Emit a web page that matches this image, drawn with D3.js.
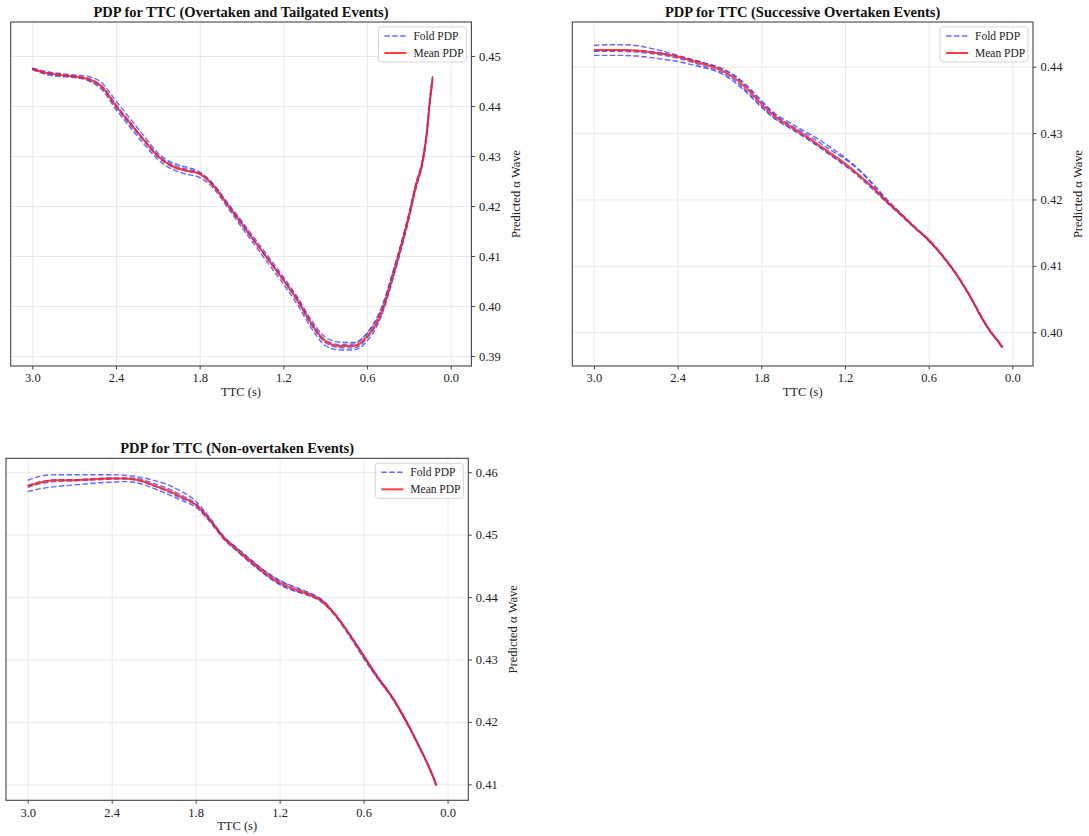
<!DOCTYPE html>
<html lang="en">
<head>
<meta charset="UTF-8">
<title>PDP for TTC</title>
<script src="https://d3js.org/d3.v7.min.js"></script>
<style>
  html, body { margin: 0; background: #fff; }
  svg { display: block; font-family: "Liberation Serif", "Times New Roman", serif; }
  .title { font-size: 14.5px; font-weight: bold; text-anchor: middle; fill: #111; }
  .axis-label { font-size: 12.5px; text-anchor: middle; fill: #222; }
  .tick text { font-size: 12.5px; fill: #222; font-family: "Liberation Serif", serif; }
  .grid line { stroke: #e4e4e4; stroke-width: 0.8; }
  .grid path { display: none; }
  .frame { fill: none; stroke: #444; stroke-width: 1.1; }
  .fold { fill: none; stroke: #3434ff; stroke-opacity: 0.75; stroke-width: 1.4; stroke-dasharray: 5.5 2.4; }
  .mean { fill: none; stroke: #ff1f1f; stroke-opacity: 0.85; stroke-width: 2; }
  .legend-box { fill: #fff; fill-opacity: 0.85; stroke: #d4d4d4; }
  .legend text { font-size: 11.5px; fill: #222; }
</style>
</head>
<body>
<svg width="1089" height="836"></svg>
<script>
// shared x ticks
const ttcTicks = [3.0, 2.4, 1.8, 1.2, 0.6, 0.0];
const legendLabels = ["Fold PDP", "Mean PDP"];

// panel 1: overtaken and tailgated
const ttc1 = [3.0,2.9,2.8,2.7,2.6,2.5,2.4,2.3,2.2,2.1,2.0,1.9,1.8,1.7,1.6,1.5,1.4,1.3,1.2,1.1,1.0,0.9,0.8,0.7,0.6,0.5,0.4,0.3,0.25,0.2,0.17,0.15,0.13];
const mean1 = [.4474,.4466,.4462,.4459,.4454,.4438,.4400,.4366,.4332,.4300,.4280,.4271,.4264,.4240,.4202,.4165,.4127,.4090,.4052,.4012,.3965,.3930,.3920,.3920,.3939,.3985,.4075,.4180,.4240,.4292,.4350,.4410,.4455];
const fold1a = [.4476,.4469,.4465,.4462,.4459,.4446,.4410,.4375,.4340,.4306,.4287,.4278,.4268,.4243,.4206,.4170,.4133,.4096,.4058,.4018,.3972,.3938,.3928,.3927,.3945,.3992,.4082,.4186,.4246,.4298,.4356,.4415,.4460];
const fold1b = [.4473,.4463,.4459,.4457,.4451,.4432,.4393,.4358,.4324,.4293,.4274,.4264,.4257,.4235,.4197,.4158,.4120,.4082,.4044,.4003,.3956,.3921,.3912,.3912,.3930,.3978,.4068,.4173,.4234,.4287,.4345,.4404,.4450];
const fold1c = [.4475,.4465,.4461,.4460,.4455,.4440,.4403,.4368,.4333,.4302,.4283,.4274,.4266,.4241,.4201,.4163,.4126,.4089,.4051,.4010,.3962,.3927,.3917,.3916,.3936,.3983,.4073,.4178,.4239,.4291,.4349,.4408,.4453];
const fold1d = [.4474,.4467,.4463,.4458,.4452,.4436,.4398,.4363,.4330,.4298,.4279,.4270,.4265,.4242,.4205,.4168,.4128,.4091,.4054,.4015,.3968,.3932,.3923,.3924,.3946,.3995,.4082,.4182,.4241,.4293,.4351,.4411,.4457];
const yTicks1 = [0.39, 0.40, 0.41, 0.42, 0.43, 0.44, 0.45];

// panel 2: successive overtaken
const ttc2 = [3.0,2.9,2.8,2.7,2.6,2.5,2.4,2.3,2.2,2.1,2.0,1.9,1.8,1.7,1.6,1.5,1.4,1.3,1.2,1.1,1.0,0.9,0.8,0.7,0.6,0.5,0.4,0.3,0.2,0.15,0.1,0.07];
const mean2 = [.4425,.4425,.4425,.4424,.4422,.4419,.4415,.4409,.4403,.4396,.4384,.4366,.4344,.4325,.4311,.4298,.4284,.4269,.4254,.4237,.4218,.4197,.4178,.4158,.4139,.4115,.4087,.4053,.4015,.3999,.3986,.3977];
const fold2a = [.4432,.4433,.4433,.4432,.4428,.4423,.4417,.4411,.4405,.4398,.4387,.4369,.4347,.4327,.4313,.4301,.4288,.4274,.4261,.4244,.4222,.4199,.4179,.4159,.4140,.4116,.4088,.4054,.4016,.4000,.3987,.3978];
const fold2b = [.4417,.4417,.4417,.4416,.4414,.4411,.4408,.4403,.4398,.4391,.4378,.4360,.4339,.4321,.4308,.4295,.4281,.4266,.4251,.4234,.4215,.4195,.4176,.4157,.4138,.4114,.4086,.4052,.4014,.3998,.3985,.3976];
const fold2c = [.4424,.4425,.4425,.4425,.4423,.4420,.4416,.4411,.4405,.4399,.4388,.4371,.4349,.4329,.4316,.4304,.4292,.4278,.4263,.4245,.4224,.4200,.4179,.4158,.4139,.4115,.4087,.4053,.4015,.3999,.3986,.3977];
const fold2d = [.4423,.4423,.4423,.4422,.4420,.4417,.4413,.4407,.4400,.4393,.4381,.4362,.4341,.4322,.4309,.4296,.4282,.4267,.4252,.4236,.4217,.4196,.4177,.4157,.4138,.4114,.4086,.4052,.4014,.3998,.3985,.3976];
const yTicks2 = [0.40, 0.41, 0.42, 0.43, 0.44];

// panel 3: non-overtaken
const ttc3 = [3.0,2.9,2.8,2.7,2.6,2.5,2.4,2.3,2.2,2.1,2.0,1.9,1.8,1.7,1.6,1.5,1.4,1.3,1.2,1.1,1.0,0.9,0.8,0.7,0.6,0.5,0.4,0.3,0.2,0.15,0.1,0.08];
const mean3 = [.4578,.4584,.4587,.4587,.4588,.4589,.4590,.4590,.4587,.4579,.4571,.4560,.4548,.4524,.4495,.4475,.4456,.4438,.4423,.4413,.4405,.4394,.4371,.4340,.4306,.4272,.4241,.4203,.4159,.4136,.4110,.4098];
const fold3a = [.4587,.4594,.4596,.4596,.4596,.4596,.4596,.4595,.4592,.4587,.4580,.4569,.4554,.4527,.4497,.4477,.4458,.4441,.4427,.4417,.4408,.4396,.4372,.4341,.4307,.4273,.4242,.4204,.4160,.4137,.4111,.4099];
const fold3b = [.4569,.4574,.4577,.4579,.4581,.4583,.4584,.4585,.4582,.4574,.4565,.4555,.4544,.4521,.4493,.4473,.4453,.4435,.4420,.4410,.4403,.4392,.4369,.4337,.4302,.4269,.4239,.4201,.4158,.4135,.4109,.4097];
const fold3c = [.4579,.4585,.4588,.4588,.4589,.4590,.4591,.4591,.4589,.4582,.4574,.4563,.4550,.4526,.4497,.4478,.4459,.4441,.4426,.4416,.4407,.4396,.4372,.4339,.4304,.4270,.4240,.4202,.4159,.4136,.4110,.4098];
const fold3d = [.4576,.4582,.4585,.4586,.4587,.4588,.4589,.4589,.4586,.4578,.4569,.4558,.4547,.4523,.4494,.4473,.4454,.4436,.4421,.4411,.4404,.4393,.4370,.4340,.4307,.4273,.4242,.4204,.4160,.4137,.4111,.4099];
const yTicks3 = [0.41, 0.42, 0.43, 0.44, 0.45, 0.46];

const panels = [
  { title: "PDP for TTC (Overtaken and Tailgated Events)", ttc: ttc1, mean: mean1,
    folds: [fold1a, fold1b, fold1c, fold1d], yTicks: yTicks1, yDomain: [0.388, 0.4568],
    left: 10.7, top: 22, width: 460.7, height: 344 },
  { title: "PDP for TTC (Successive Overtaken Events)", ttc: ttc2, mean: mean2,
    folds: [fold2a, fold2b, fold2c, fold2d], yTicks: yTicks2, yDomain: [0.39492, 0.44673],
    left: 572.3, top: 22, width: 460.7, height: 344 },
  { title: "PDP for TTC (Non-overtaken Events)", ttc: ttc3, mean: mean3,
    folds: [fold3a, fold3b, fold3c, fold3d], yTicks: yTicks3, yDomain: [0.40745, 0.46223],
    left: 6, top: 458.3, width: 462.3, height: 342 }
];

const svg = d3.select("svg");

function drawPanel(p) {
  const g = svg.append("g").attr("transform", `translate(${p.left},${p.top})`);
  const x = d3.scaleLinear().domain([3.155, -0.148]).range([0, p.width]);
  const y = d3.scaleLinear().domain(p.yDomain).range([p.height, 0]);

  // grid
  g.append("g").attr("class", "grid")
    .attr("transform", `translate(0,${p.height})`)
    .call(d3.axisBottom(x).tickValues(ttcTicks).tickSize(-p.height).tickFormat(""));
  g.append("g").attr("class", "grid")
    .call(d3.axisLeft(y).tickValues(p.yTicks).tickSize(-p.width).tickFormat(""));

  const line = d3.line()
    .x(d => x(d[0]))
    .y(d => y(d[1]))
    .curve(d3.curveMonotoneX);

  p.folds.forEach(f => {
    g.append("path").attr("class", "fold")
      .attr("d", line(p.ttc.map((t, i) => [t, f[i]])));
  });
  g.append("path").attr("class", "mean")
    .attr("d", line(p.ttc.map((t, i) => [t, p.mean[i]])));

  // frame
  g.append("rect").attr("class", "frame")
    .attr("width", p.width).attr("height", p.height);

  // axes
  const xAxis = g.append("g")
    .attr("transform", `translate(0,${p.height})`)
    .call(d3.axisBottom(x).tickValues(ttcTicks).tickFormat(d3.format(".1f")).tickSize(3.5).tickPadding(4));
  const yAxis = g.append("g")
    .attr("transform", `translate(${p.width},0)`)
    .call(d3.axisRight(y).tickValues(p.yTicks).tickFormat(d3.format(".2f")).tickSize(3.5).tickPadding(4));
  [xAxis, yAxis].forEach(a => {
    a.select(".domain").remove();
    a.selectAll(".tick line").attr("stroke", "#444");
  });

  // titles and labels
  g.append("text").attr("class", "title")
    .attr("x", p.width / 2).attr("y", -5)
    .text(p.title);
  g.append("text").attr("class", "axis-label")
    .attr("x", p.width / 2).attr("y", p.height + 30)
    .text("TTC (s)");
  g.append("text").attr("class", "axis-label")
    .attr("transform", `translate(${p.width + 49},${p.height / 2}) rotate(-90)`)
    .text("Predicted α Wave");

  // legend
  const lw = 88, lh = 35;
  const lg = g.append("g").attr("class", "legend")
    .attr("transform", `translate(${p.width - 5 - lw},5)`);
  lg.append("rect").attr("class", "legend-box")
    .attr("width", lw).attr("height", lh).attr("rx", 3);
  legendLabels.forEach((name, i) => {
    const yy = 9 + i * 17;
    lg.append("line").attr("class", i === 0 ? "fold" : "mean")
      .attr("x1", 6).attr("x2", 28).attr("y1", yy).attr("y2", yy);
    lg.append("text").attr("x", 35).attr("y", yy).attr("dy", "0.35em").text(name);
  });
}

panels.forEach(drawPanel);
</script>
</body>
</html>
